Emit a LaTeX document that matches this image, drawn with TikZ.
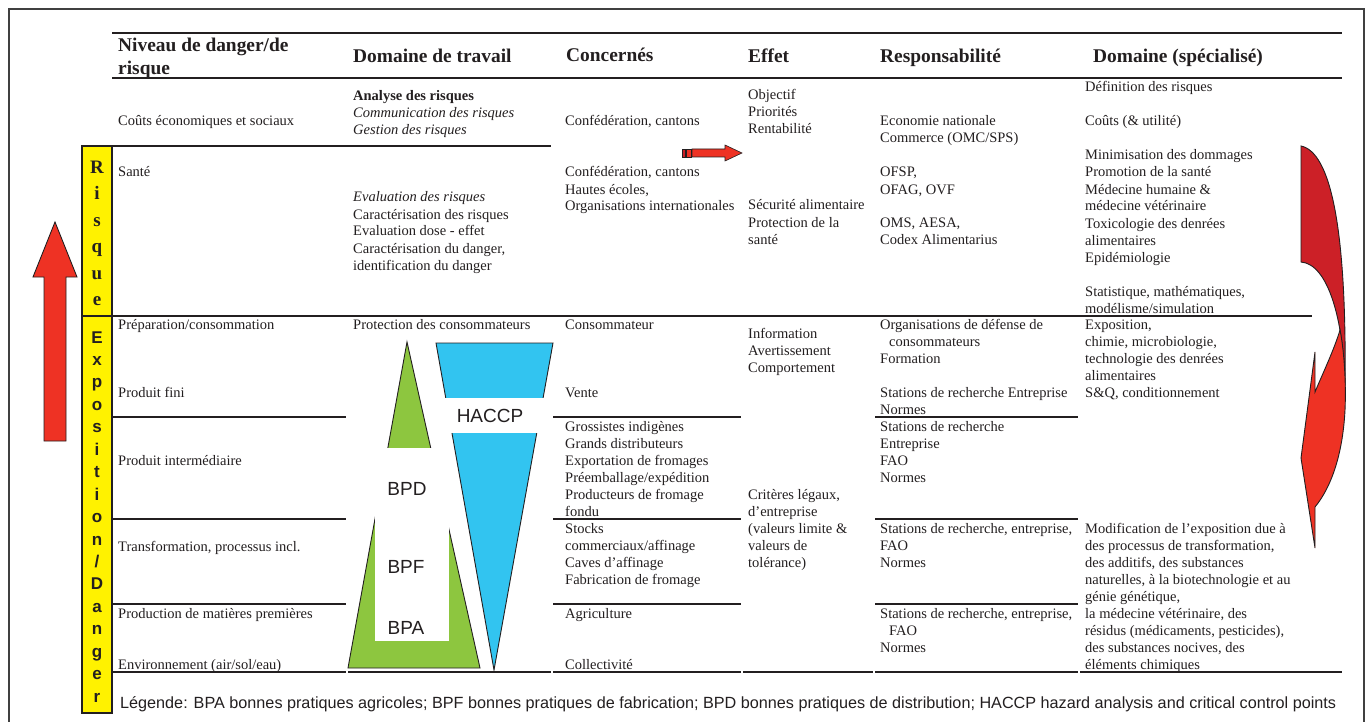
\documentclass[tikz,border=0pt]{standalone}
\usepackage{fontspec}
\setmainfont{Liberation Serif}
\setsansfont{Liberation Sans}
\definecolor{ybar}{RGB}{255,242,0}
\definecolor{redA}{RGB}{238,50,36}
\definecolor{redB}{RGB}{204,32,39}
\definecolor{cyanA}{RGB}{50,196,240}
\definecolor{greenA}{RGB}{141,198,63}
\definecolor{ink}{RGB}{35,31,32}
\newcommand{\mlines}[4]{\foreach \ln [count=\k from 0] in {#4}{\node[txt] (#1-\k) at (#2,{#3+17*\k}) {\ln};}}
\begin{document}
\begin{tikzpicture}[x=1pt,y=-1pt,
  txt/.style={anchor=west,inner sep=0pt,text height=10pt,text depth=0pt,font=\fontsize{14.5}{17}\selectfont,text=ink},
  hdr/.style={anchor=west,inner sep=0pt,text height=13pt,text depth=0pt,font=\fontsize{19.4}{22}\selectfont\bfseries,text=ink},
  lbl/.style={inner sep=0pt,text height=14pt,text depth=0pt,font=\sffamily\fontsize{19}{22}\selectfont,text=ink},
  leg/.style={anchor=west,inner sep=0pt,text height=11pt,text depth=0pt,font=\sffamily\fontsize{16.2}{18}\selectfont,text=ink},
  rlet/.style={inner sep=0pt,text height=13pt,text depth=0pt,font=\fontsize{19}{22}\selectfont\bfseries,text=ink},
  elet/.style={inner sep=0pt,text height=12pt,text depth=0pt,font=\sffamily\fontsize{17}{20}\selectfont\bfseries,text=ink},
  rule/.style={draw=ink,line width=1.2pt},
  frame/.style={draw=black!75,line width=1.5pt},
  outl/.style={draw=ink,line width=0.9pt}]
\useasboundingbox[fill=white] (0,0) rectangle (1370,722);
% frame
\draw[frame] (9,722) -- (9,9) -- (1364,9) -- (1364,722);
% table rules
\draw[rule] (112,33) -- (1342,33);
\draw[rule] (112,78) -- (1342,78);
\draw[rule] (112,146) -- (551,146);
\draw[rule] (112,316) -- (1312,316);
\foreach \yy in {417,519,604}{
  \draw[rule] (112,\yy) -- (346,\yy);
  \draw[rule] (553,\yy) -- (741,\yy);
  \draw[rule] (875,\yy) -- (1078,\yy);
}
\foreach \xa/\xb in {112/346,348/551,553/741,743/873,875/1078,1080/1342}
  \draw[rule] (\xa,672) -- (\xb,672);
% yellow bars
\filldraw[fill=ybar,draw=ink,line width=1.2pt] (82,146) rectangle (112,316);
\filldraw[fill=ybar,draw=ink,line width=1.2pt] (82,316) rectangle (112,713);
\foreach \c [count=\k from 0] in {R,i,s,q,u,e}
  \node[rlet] (rl\k) at (97,{167+26.4*\k}) {\c};
\foreach \c [count=\k from 0] in {E,x,p,o,s,i,t,i,o,n,/,D,a,n,g,e,r}
  \node[elet] (el\k) at (97,{337+22.45*\k}) {\c};
% big left arrow
\filldraw[fill=redA,outl] (44,441) -- (44,277) -- (33,277) -- (55,222) -- (77,277) -- (66,277) -- (66,441) -- cycle;
% small arrow
\filldraw[fill=redB,outl,line width=0.6pt] (682,149) rectangle (685,157);
\filldraw[fill=redA,outl,line width=0.6pt] (686,149) rectangle (691,157);
\filldraw[fill=redA,outl,line width=0.6pt] (692,149) -- (725,149) -- (725,145) -- (742,153) -- (725,161) -- (725,157) -- (692,157) -- cycle;
% curved right arrow
\filldraw[fill=redB,outl] (1301,146) .. controls (1330,152) and (1347,225) .. (1345,388)
   .. controls (1344,320) and (1328,264) .. (1301,262) -- cycle;
\filldraw[fill=redA,outl] (1315,352) -- (1315,392) .. controls (1322,375) and (1334,350) .. (1340,330)
   .. controls (1345,355) and (1346,390) .. (1345,410) .. controls (1343,450) and (1333,485) .. (1315,507)
   -- (1315,548) -- (1301,458) -- cycle;
% green triangle and blue triangle
\filldraw[fill=greenA,outl] (407,342) -- (480,668) -- (348,668) -- cycle;
\fill[white] (375,448) rectangle (449,641);
\filldraw[fill=cyanA,outl] (436,343) -- (553,343) -- (494,670) -- cycle;
\fill[white] (444,398) rectangle (546,433);
\node[lbl] (haccp) at (490,415) {HACCP};
\node[lbl] (bpd) at (407,488) {BPD};
\node[lbl] (bpf) at (406,566) {BPF};
\node[lbl] (bpa) at (406,627) {BPA};
% headers
\node[hdr] (h1) at (118,45) {Niveau de danger/de};
\node[hdr] (h1b) at (118,68) {risque};
\node[hdr] (h2) at (353,56) {Domaine de travail};
\node[hdr] (h3) at (566,55) {Concernés};
\node[hdr] (h4) at (748,56) {Effet};
\node[hdr] (h5) at (880,56) {Responsabilité};
\node[hdr] (h6) at (1093,56) {Domaine (spécialisé)};
% row 1
\node[txt] (r1c1) at (118,121) {Coûts économiques et sociaux};
\mlines{r1c2}{353}{96}{{\bfseries Analyse des risques},{\itshape Communication des risques},{\itshape Gestion des risques}}
\node[txt] (r1c3) at (565,121) {Confédération, cantons};
\mlines{r1c4}{748}{95}{Objectif,Priorités,Rentabilité}
\mlines{r1c5}{880}{121}{Economie nationale,{Commerce (OMC/SPS)}}
\node[txt] (r1c6a) at (1085,87) {Définition des risques};
\node[txt] (r1c6b) at (1085,121) {Coûts (\& utilité)};
% row 2
\node[txt] (r2c1) at (118,172) {Santé};
\mlines{r2c2}{353}{197}{{\itshape Evaluation des risques},Caractérisation des risques,Evaluation dose - effet,{Caractérisation du danger,},identification du danger}
\mlines{r2c3}{565}{172}{{Confédération, cantons},{Hautes écoles,},Organisations internationales}
\mlines{r2c4}{748}{205}{Sécurité alimentaire,Protection de la,santé}
\mlines{r2c5}{880}{172}{{OFSP,},{OFAG, OVF}}
\mlines{r2c5b}{880}{222}{{OMS, AESA,},Codex Alimentarius}
\mlines{r2c6}{1085}{155}{Minimisation des dommages,Promotion de la santé,Médecine humaine \&,médecine vétérinaire,Toxicologie des denrées,alimentaires,Epidémiologie}
\mlines{r2c6b}{1085}{291}{{Statistique, mathématiques,},modélisme/simulation}
% exposition rows, col 1
\node[txt] (e1) at (118,324) {Préparation/consommation};
\node[txt] (e2) at (118,392) {Produit fini};
\node[txt] (e3) at (118,460) {Produit intermédiaire};
\node[txt] (e4) at (118,546) {Transformation, processus incl.};
\node[txt] (e5) at (118,613) {Production de matières premières};
\node[txt] (e6) at (118,664) {Environnement (air/sol/eau)};
% col 2
\node[txt] (pc) at (353,324) {Protection des consommateurs};
% col 3
\node[txt] (c3a) at (565,324) {Consommateur};
\node[txt] (c3b) at (565,392) {Vente};
\mlines{c3c}{565}{426}{Grossistes indigènes,Grands distributeurs,Exportation de fromages,Préemballage/expédition,Producteurs de fromage,fondu}
\mlines{c3d}{565}{528}{Stocks,commerciaux/affinage,Caves d’affinage,Fabrication de fromage}
\node[txt] (c3e) at (565,613) {Agriculture};
\node[txt] (c3f) at (565,664) {Collectivité};
% col 4
\mlines{c4a}{748}{333}{Information,Avertissement,Comportement}
\mlines{c4b}{748}{494}{{Critères légaux,},d’entreprise,{(valeurs limite \&},valeurs de,{tolérance)}}
% col 5
\mlines{c5a}{880}{324}{Organisations de défense de,\hspace*{9pt}consommateurs,Formation}
\mlines{c5b}{880}{392}{Stations de recherche Entreprise,Normes}
\mlines{c5c}{880}{426}{Stations de recherche,Entreprise,FAO,Normes}
\mlines{c5d}{880}{528}{{Stations de recherche, entreprise,},FAO,Normes}
\mlines{c5e}{880}{613}{{Stations de recherche, entreprise,},\hspace*{9pt}FAO,Normes}
% col 6
\mlines{c6a}{1085}{324}{{Exposition,},{chimie, microbiologie,},technologie des denrées,alimentaires,{S\&Q, conditionnement}}
\mlines{c6b}{1085}{528}{Modification de l’exposition due à,{des processus de transformation,},{des additifs, des substances},{naturelles, à la biotechnologie et au},{génie génétique,},{la médecine vétérinaire, des},{résidus (médicaments, pesticides),},{des substances nocives, des},éléments chimiques}
% legend
\node[leg] (legend) at (120,703) {Légende: BPA bonnes pratiques agricoles; BPF bonnes pratiques de fabrication; BPD bonnes pratiques de distribution; HACCP hazard analysis and critical control points};
\end{tikzpicture}
\end{document}
